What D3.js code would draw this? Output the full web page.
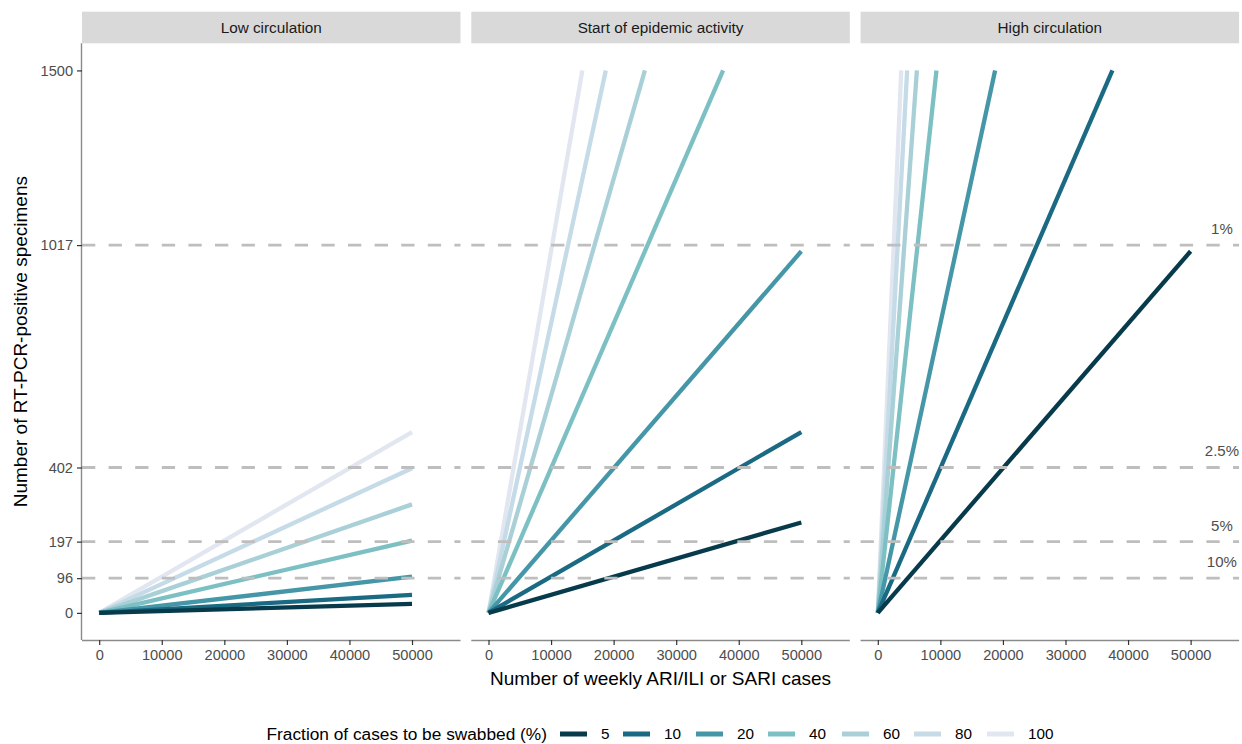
<!DOCTYPE html>
<html>
<head>
<meta charset="utf-8">
<script src="https://cdn.jsdelivr.net/npm/d3@7"></script>
<style>
  html, body { margin: 0; padding: 0; background: #fff; }
  svg { display: block; font-family: "Liberation Sans", Arial, Helvetica, sans-serif; }
</style>
</head>
<body>
<svg id="chart" width="1242" height="744"></svg>
<script>
// ---------------- DATA ----------------
const facets = ["Low circulation", "Start of epidemic activity", "High circulation"];
const swabFractions = [5, 10, 20, 40, 60, 80, 100];
const swabColors = ["#073b4c", "#1b6a83", "#4597a8", "#7cc0c4", "#a8d0d6", "#c5dbe7", "#e1e6f0"];

// End points of each line (all start at 0,0), per facet, in swab-fraction order
const lowEndX   = [50000, 50000, 50000, 50000, 50000, 50000, 50000];
const lowEndY   = [25, 50, 100, 200, 300, 400, 500];
const startEndX = [50000, 50000, 50000, 37500, 25000, 18750, 15000];
const startEndY = [250, 500, 1000, 1500, 1500, 1500, 1500];
const highEndX  = [50000, 37500, 18750, 9375, 6250, 4690, 3750];
const highEndY  = [1000, 1500, 1500, 1500, 1500, 1500, 1500];

const thresholdValues = [1017, 402, 197, 96];
const thresholdLabels = ["1%", "2.5%", "5%", "10%"];

const xTicks = [0, 10000, 20000, 30000, 40000, 50000];
const yTicks = [0, 96, 197, 402, 1017, 1500];

const xTitle = "Number of weekly ARI/ILI or SARI cases";
const yTitle = "Number of RT-PCR-positive specimens";
const legendTitle = "Fraction of cases to be swabbed (%)";

// ---------------- LAYOUT ----------------
const svg = d3.select("#chart");
const panelLefts = [82, 471.3, 860.6];
const panelW = 378.5;
const panelTop = 43.3;
const panelBottom = 640;
const stripTop = 11.7;

const x = d3.scaleLinear().domain([-2750, 57750]).range([0, panelW]);
const y = d3.scaleLinear().domain([-75, 1575]).range([panelBottom, panelTop]);
const color = d3.scaleOrdinal().domain(swabFractions).range(swabColors);

const facetEnds = [
  [lowEndX, lowEndY],
  [startEndX, startEndY],
  [highEndX, highEndY]
];

facets.forEach((name, fi) => {
  const g = svg.append("g").attr("transform", `translate(${panelLefts[fi]},0)`);

  // strip
  g.append("rect")
    .attr("x", 0).attr("y", stripTop)
    .attr("width", panelW).attr("height", panelTop - stripTop)
    .attr("fill", "#d9d9d9");
  g.append("text")
    .attr("x", panelW / 2).attr("y", (stripTop + panelTop) / 2)
    .attr("dy", "0.35em")
    .attr("text-anchor", "middle")
    .attr("font-size", 15.3)
    .attr("fill", "#1a1a1a")
    .text(name);

  // lines
  const [ex, ey] = facetEnds[fi];
  const lineData = swabFractions.map((f, i) => ({ f, pts: [[0, 0], [ex[i], ey[i]]] })).reverse();
  const line = d3.line().x(d => x(d[0])).y(d => y(d[1]));
  g.selectAll("path.series").data(lineData).join("path")
    .attr("class", "series")
    .attr("d", d => line(d.pts))
    .attr("fill", "none")
    .attr("stroke", d => color(d.f))
    .attr("stroke-width", 4.3)
    .attr("stroke-linecap", "butt");

  // dashed reference lines
  g.selectAll("line.thr").data(thresholdValues).join("line")
    .attr("class", "thr")
    .attr("x1", 0).attr("x2", panelW)
    .attr("y1", d => y(d)).attr("y2", d => y(d))
    .attr("stroke", "#bebebe")
    .attr("stroke-width", 2.8)
    .attr("stroke-dasharray", "13.3,13.3");

  if (fi === 2) {
    g.selectAll("text.thr").data(thresholdValues).join("text")
      .attr("class", "thr")
      .attr("x", x(55000))
      .attr("y", d => y(d) - 11)
      .attr("text-anchor", "middle")
      .attr("font-size", 15)
      .attr("fill", "#4d4d4d")
      .text((d, i) => thresholdLabels[i]);
  }

  // x axis
  const xa = g.append("g").attr("transform", `translate(0,${panelBottom})`)
    .call(d3.axisBottom(x).tickValues(xTicks).tickFormat(d3.format("d")).tickSize(5).tickPadding(5));
  xa.select(".domain").attr("stroke", "#8a8a8a").attr("stroke-width", 1.4)
    .attr("d", `M0,0.5H${panelW}`);
  xa.selectAll(".tick line").attr("stroke", "#333").attr("stroke-width", 1.2);
  xa.selectAll(".tick text").attr("font-size", 14.6).attr("fill", "#4d4d4d")
    .attr("font-family", "Liberation Sans, Arial, sans-serif");

  if (fi === 0) {
    const ya = g.append("g")
      .call(d3.axisLeft(y).tickValues(yTicks).tickFormat(d3.format("d")).tickSize(5).tickPadding(4));
    ya.select(".domain").attr("stroke", "#8a8a8a").attr("stroke-width", 1.4)
      .attr("d", `M-0.5,${panelTop}V${panelBottom}`);
    ya.selectAll(".tick line").attr("stroke", "#333").attr("stroke-width", 1.2);
    ya.selectAll(".tick text").attr("font-size", 14.6).attr("fill", "#4d4d4d")
      .attr("font-family", "Liberation Sans, Arial, sans-serif");
  }
});

// axis titles
svg.append("text")
  .attr("x", (panelLefts[0] + panelLefts[2] + panelW) / 2)
  .attr("y", 678).attr("dy", "0.35em")
  .attr("text-anchor", "middle")
  .attr("font-size", 19)
  .attr("fill", "#000")
  .text(xTitle);

svg.append("text")
  .attr("transform", `translate(20,${(panelTop + panelBottom) / 2}) rotate(-90)`)
  .attr("dy", "0.35em")
  .attr("text-anchor", "middle")
  .attr("font-size", 19)
  .attr("fill", "#000")
  .text(yTitle);

// legend
const legendY = 734;
const keyX = [560, 623, 696, 768, 842, 914, 987];
const legend = svg.append("g");
legend.append("text")
  .attr("x", 547).attr("y", legendY).attr("dy", "0.35em")
  .attr("text-anchor", "end")
  .attr("font-size", 17.3)
  .attr("fill", "#000")
  .text(legendTitle);
swabFractions.forEach((f, i) => {
  legend.append("line")
    .attr("x1", keyX[i]).attr("x2", keyX[i] + 27)
    .attr("y1", legendY).attr("y2", legendY)
    .attr("stroke", color(f)).attr("stroke-width", 5);
  legend.append("text")
    .attr("x", keyX[i] + 41).attr("y", legendY).attr("dy", "0.35em")
    .attr("font-size", 15.3)
    .attr("fill", "#000")
    .text(f);
});
</script>
</body>
</html>
